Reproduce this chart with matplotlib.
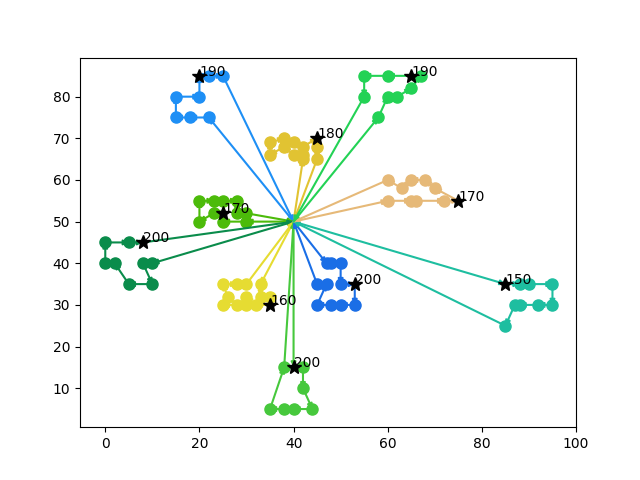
import matplotlib
matplotlib.use("Agg")
import matplotlib.pyplot as plt

# node coordinates (node 0 = depot)
xs = [40, 45, 45, 42, 42, 42, 40, 40, 38, 38, 35, 35, 25, 22, 22, 20, 20, 18, 15, 15,
      30, 30, 28, 28, 25, 25, 25, 23, 23, 20, 20, 10, 10, 8, 8, 5, 5, 2, 0, 0,
      35, 35, 33, 33, 32, 30, 30, 30, 28, 28, 26, 25, 25, 44, 42, 42, 40, 40, 38, 38,
      35, 50, 50, 50, 48, 48, 47, 47, 45, 45, 95, 95, 53, 92, 53, 45, 90, 88, 88, 87,
      85, 85, 75, 72, 70, 68, 66, 65, 65, 63, 60, 60, 67, 65, 65, 62, 60, 60, 58, 55, 55]
ys = [50, 68, 70, 66, 68, 65, 69, 66, 68, 70, 66, 69, 85, 75, 85, 80, 85, 75, 75, 80,
      50, 52, 52, 55, 50, 52, 55, 52, 55, 50, 55, 35, 40, 40, 45, 35, 45, 40, 40, 45,
      30, 32, 32, 35, 30, 30, 32, 35, 30, 35, 32, 30, 35, 5, 10, 15, 5, 15, 5, 15,
      5, 30, 35, 40, 30, 40, 35, 40, 30, 35, 30, 35, 30, 30, 35, 65, 35, 30, 35, 30,
      25, 35, 55, 55, 58, 60, 55, 55, 60, 58, 55, 60, 85, 85, 82, 80, 80, 85, 75, 80, 85]

routes = [
    [5, 3, 7, 8, 10, 11, 9, 6, 4, 2, 1, 75],
    [13, 17, 18, 19, 15, 16, 14, 12],
    [20, 24, 25, 27, 29, 30, 28, 26, 23, 22, 21],
    [32, 33, 31, 35, 37, 38, 39, 36, 34],
    [43, 42, 41, 40, 44, 46, 45, 48, 51, 50, 52, 49, 47],
    [57, 55, 54, 53, 56, 58, 60, 59],
    [67, 65, 63, 62, 74, 72, 61, 64, 68, 66, 69],
    [81, 78, 76, 71, 70, 73, 77, 79, 80],
    [90, 87, 86, 83, 82, 84, 85, 88, 89, 91],
    [98, 96, 95, 94, 92, 93, 97, 100, 99],
]
loads = [180, 190, 170, 200, 160, 200, 200, 150, 170, 190]
star_nodes = [2, 16, 25, 34, 40, 57, 74, 81, 82, 93]

colors = ['#e1c332', '#1e8ff5', '#4cbb0a', '#0a8c4b', '#e6dc32',
          '#46c83c', '#1a6ee6', '#1ebea0', '#e6b978', '#23d255']

fig, ax = plt.subplots(figsize=(6.4, 4.8), dpi=100)

for r, c, load, s in zip(routes, colors, loads, star_nodes):
    path = [0] + r + [0]
    for a, b in zip(path[:-1], path[1:]):
        ax.annotate('', xy=(xs[b], ys[b]), xytext=(xs[a], ys[a]),
                    arrowprops=dict(arrowstyle='-|>', color=c, lw=1.5,
                                    shrinkA=0, shrinkB=0, mutation_scale=7))
    cx = [xs[i] for i in r if i != s]
    cy = [ys[i] for i in r if i != s]
    ax.plot(cx, cy, 'o', color=c, markersize=8, linestyle='none', zorder=3)
    ax.plot(xs[s], ys[s], '*', color='black', markersize=10, zorder=4)
    ax.text(xs[s], ys[s], str(load), fontsize=10, zorder=5)

ax.set_xlim(-5.37, 100)
ax.set_ylim(0.64, 89.38)

plt.savefig('out.png')
